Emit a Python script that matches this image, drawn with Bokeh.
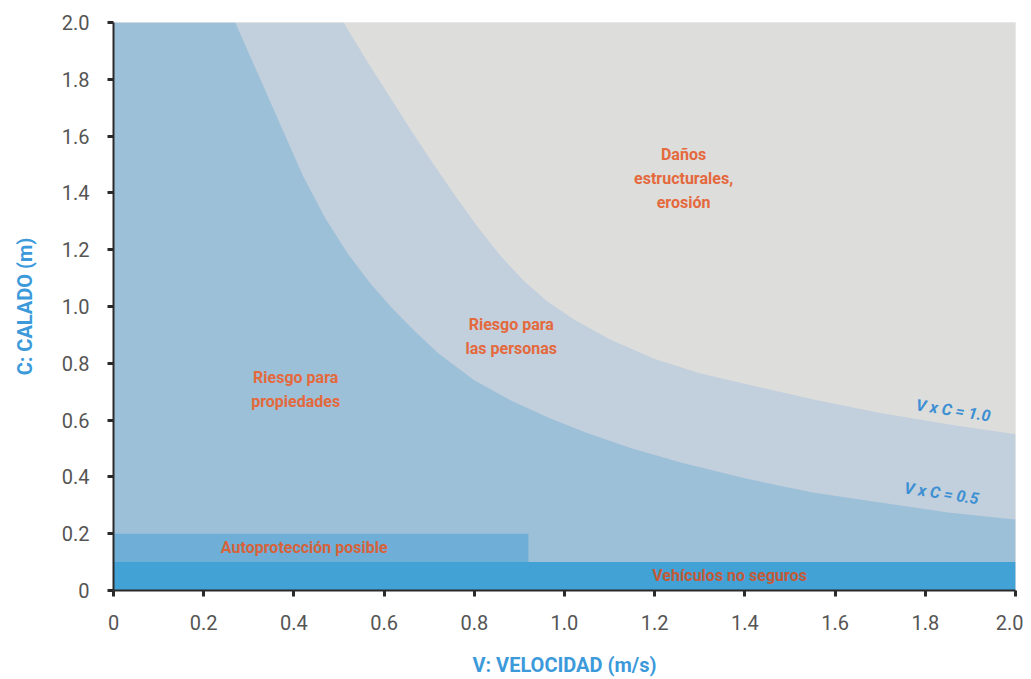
from bokeh.plotting import figure
from bokeh.models import ColumnDataSource, FixedTicker, Range1d
from bokeh.core.properties import value
from bokeh.embed import file_html
from bokeh.resources import INLINE

# ---- data ----
x_ticks = [0, 0.2, 0.4, 0.6, 0.8, 1.0, 1.2, 1.4, 1.6, 1.8, 2.0]
x_tick_labels = ["0", "0.2", "0.4", "0.6", "0.8", "1.0", "1.2", "1.4", "1.6", "1.8", "2.0"]
y_ticks = [0, 0.2, 0.4, 0.6, 0.8, 1.0, 1.2, 1.4, 1.6, 1.8, 2.0]
y_tick_labels = ["0", "0.2", "0.4", "0.6", "0.8", "1.0", "1.2", "1.4", "1.6", "1.8", "2.0"]

# boundary V x C = 1.0 (upper curve)
upper_v = [0.51, 0.56, 0.61, 0.66, 0.71, 0.76, 0.81, 0.86, 0.91, 0.96, 1.02, 1.10, 1.20, 1.30, 1.42, 1.56, 1.70, 1.85, 2.00]
upper_c = [2.00, 1.87, 1.745, 1.62, 1.50, 1.385, 1.275, 1.175, 1.09, 1.02, 0.955, 0.885, 0.815, 0.765, 0.72, 0.67, 0.625, 0.585, 0.55]
# boundary V x C = 0.5 (lower curve)
lower_v = [0.27, 0.32, 0.37, 0.42, 0.47, 0.52, 0.57, 0.62, 0.67, 0.72, 0.80, 0.88, 0.97, 1.05, 1.15, 1.26, 1.40, 1.55, 1.70, 1.85, 2.00]
lower_c = [2.00, 1.82, 1.64, 1.46, 1.31, 1.185, 1.08, 0.99, 0.91, 0.835, 0.74, 0.67, 0.605, 0.555, 0.50, 0.45, 0.395, 0.345, 0.31, 0.275, 0.25]

V_MAX = 2.0
C_MAX = 2.0
autoprot_v = 0.92      # extent of "Autoprotección posible" band
autoprot_c = [0.1, 0.2]
vehic_c = [0.0, 0.1]

zone_labels = ["Daños\nestructurales,\nerosión", "Riesgo para\nlas personas",
               "Riesgo para\npropiedades"]
zone_v = [1.264, 0.882, 0.404]
zone_c = [1.45, 0.894, 0.708]

FONT = "Roboto"

# ---- figure ----
p = figure(width=1023, height=671, output_backend="svg", toolbar_location=None,
           x_range=Range1d(0, V_MAX), y_range=Range1d(0, C_MAX),
           frame_width=902, frame_height=568,
           min_border_left=113, min_border_right=8, min_border_top=22, min_border_bottom=81)
p.background_fill_color = "#DDDDDC"
p.border_fill_color = "white"
p.outline_line_color = "#E8E8E8"
p.grid.visible = False

# light zone (below V x C = 1.0)
p.varea(x=[0.0] + upper_v, y1=0, y2=[C_MAX] + upper_c, fill_color="#C2CFDC")
# medium zone (below V x C = 0.5)
p.varea(x=[0.0] + lower_v, y1=0, y2=[C_MAX] + lower_c, fill_color="#9DC0D9")
# autoprotección band
p.quad(left=[0], right=[autoprot_v], bottom=[autoprot_c[0]], top=[autoprot_c[1]],
       fill_color="#6EAED7", line_color=None)
# vehículos band
p.quad(left=[0], right=[V_MAX], bottom=[vehic_c[0]], top=[vehic_c[1]],
       fill_color="#42A1D5", line_color=None)

font = value(FONT)

src = ColumnDataSource(dict(x=zone_v, y=zone_c, t=zone_labels))
p.text(x="x", y="y", text="t", source=src, text_font=font, text_font_style="bold",
       text_font_size="16px", text_color="#E4693D", text_align="center",
       text_baseline="middle", text_line_height=1.27)

p.text(x=[0.423], y=[0.152], text=["Autoprotección posible"], text_font=font,
       text_font_style="bold", text_font_size="16px", text_color="#D6633B",
       text_align="center", text_baseline="middle")
p.text(x=[1.366], y=[0.054], text=["Vehículos no seguros"], text_font=font,
       text_font_style="bold", text_font_size="16px", text_color="#C45A37",
       text_align="center", text_baseline="middle")

p.text(x=[1.862, 1.836], y=[0.634, 0.342], text=["V x C = 1.0", "V x C = 0.5"],
       text_font=font, text_font_style="bold italic", text_font_size="16px",
       text_color="#3B8FD2", text_align="center", text_baseline="middle", angle=-0.15)

# ---- axes ----
for ax, ticks, labels in ((p.xaxis[0], x_ticks, x_tick_labels), (p.yaxis[0], y_ticks, y_tick_labels)):
    ax.ticker = FixedTicker(ticks=ticks)
    ax.major_label_overrides = {t: l for t, l in zip(ticks, labels)}
    ax.minor_tick_line_color = None
    ax.major_tick_in = 0
    ax.major_tick_out = 6
    ax.major_tick_line_width = 3
    ax.major_tick_line_color = "#2A2A2A"
    ax.axis_line_color = "#2A2A2A"
    ax.axis_line_width = 2
    ax.major_label_text_font = FONT
    ax.major_label_text_font_size = "20px"
    ax.major_label_text_color = "#555555"
    ax.axis_label_text_font = FONT
    ax.axis_label_text_font_style = "bold"
    ax.axis_label_text_font_size = "20px"
    ax.axis_label_text_color = "#3C9ADB"

p.xaxis.axis_label = "V: VELOCIDAD (m/s)"
p.yaxis.axis_label = "C: CALADO (m)"
p.xaxis.major_label_standoff = 18
p.yaxis.major_label_standoff = 18
p.xaxis.axis_label_standoff = 20
p.yaxis.axis_label_standoff = 22

open("out.html", "w").write(file_html(p, INLINE))
